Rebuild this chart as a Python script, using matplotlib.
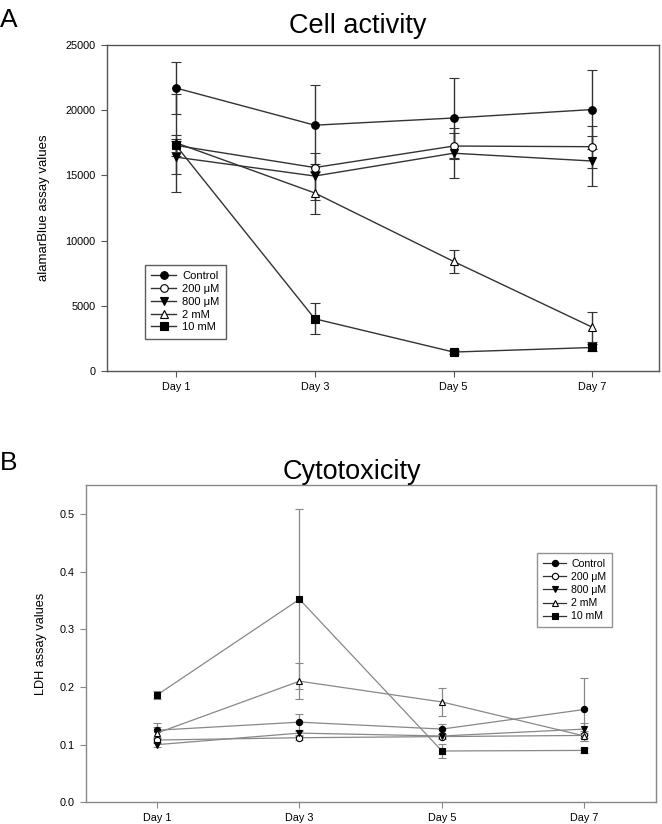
import numpy as np
import matplotlib.pyplot as plt

plt.rcParams['font.family'] = ['Liberation Sans', 'DejaVu Sans']

days = ["Day 1", "Day 3", "Day 5", "Day 7"]
groups = ["Control", "200 μM", "800 μM", "2 mM", "10 mM"]

# Panel A - alamarBlue (mean, error)
ab_control = [21700, 18850, 19400, 20050]
ab_control_err = [2000, 3100, 3050, 3050]
ab_200um = [17300, 15600, 17250, 17200]
ab_200um_err = [500, 300, 1000, 1600]
ab_800um = [16400, 14950, 16700, 16100]
ab_800um_err = [1270, 1800, 1900, 1950]
ab_2mm = [17500, 13650, 8400, 3350]
ab_2mm_err = [3750, 1600, 900, 1150]
ab_10mm = [17300, 4000, 1450, 1800]
ab_10mm_err = [800, 1200, 150, 300]

# Panel B - LDH (mean, error)
ldh_control = [0.125, 0.139, 0.127, 0.161]
ldh_control_err = [0.013, 0.015, 0.008, 0.055]
ldh_200um = [0.108, 0.112, 0.114, 0.116]
ldh_200um_err = [0.005, 0.004, 0.004, 0.005]
ldh_800um = [0.100, 0.120, 0.115, 0.127]
ldh_800um_err = [0.004, 0.005, 0.004, 0.011]
ldh_2mm = [0.120, 0.210, 0.174, 0.115]
ldh_2mm_err = [0.010, 0.031, 0.024, 0.008]
ldh_10mm = [0.186, 0.352, 0.089, 0.090]
ldh_10mm_err = [0.007, 0.156, 0.012, 0.004]

styles = [('o', 'black'), ('o', 'white'), ('v', 'black'), ('^', 'white'), ('s', 'black')]


def draw_panel(ax, means, errs, line_color, frame_color, ms, lw, cap):
    x = np.arange(1, len(days) + 1)
    handles = []
    for (marker, face), m, e, name in zip(styles, means, errs, groups):
        c = ax.errorbar(x, m, yerr=e, marker=marker, markersize=ms,
                        markerfacecolor=face, markeredgecolor='black', markeredgewidth=0.8,
                        color=line_color, linewidth=lw, ecolor=line_color, elinewidth=lw,
                        capsize=cap, capthick=lw, label=name)
        handles.append(c[0])
    ax.set_xticks(x)
    ax.set_xticklabels(days)
    for s in ax.spines.values():
        s.set_color(frame_color)
        s.set_linewidth(1.0)
    ax.tick_params(direction='out', length=4, color=frame_color, labelsize=7.8,
                   top=False, right=False, pad=4)
    return handles


fig = plt.figure(figsize=(6.62, 8.24), dpi=100)

# Panel A
ax1 = fig.add_axes([0.161, 0.5498, 0.8345, 0.3956])
h1 = draw_panel(ax1,
                [ab_control, ab_200um, ab_800um, ab_2mm, ab_10mm],
                [ab_control_err, ab_200um_err, ab_800um_err, ab_2mm_err, ab_10mm_err],
                '#333333', '#555555', 5.5, 1.0, 3.3)
ax1.set_xlim(0.5, 4.48)
ax1.set_ylim(0, 25000)
ax1.set_yticks(np.arange(0, 25001, 5000))
ax1.set_ylabel('alamarBlue assay values', fontsize=9.5)
ax1.yaxis.set_label_coords(-0.103, 0.5)
leg1 = ax1.legend(h1, groups, loc='lower left', bbox_to_anchor=(0.069, 0.098), fontsize=8,
                  frameon=True, fancybox=False, handlelength=2.25, handletextpad=0.55,
                  labelspacing=0.25, borderpad=0.6, borderaxespad=0)
leg1.get_frame().set_edgecolor('#333333')
leg1.get_frame().set_linewidth(1.0)

# Panel B
ax2 = fig.add_axes([0.1295, 0.0263, 0.861, 0.385])
h2 = draw_panel(ax2,
                [ldh_control, ldh_200um, ldh_800um, ldh_2mm, ldh_10mm],
                [ldh_control_err, ldh_200um_err, ldh_800um_err, ldh_2mm_err, ldh_10mm_err],
                '#888888', '#888888', 4.5, 0.9, 2.6)
ax2.set_xlim(0.5, 4.5)
ax2.set_ylim(0, 0.55)
ax2.set_yticks(np.arange(0, 0.51, 0.1))
ax2.set_yticklabels([f'{v:.1f}' for v in np.arange(0, 0.51, 0.1)])
ax2.set_ylabel('LDH assay values', fontsize=9.2)
ax2.yaxis.set_label_coords(-0.068, 0.5)
leg2 = ax2.legend(h2, groups, loc='lower left', bbox_to_anchor=(0.792, 0.552), fontsize=7.6,
                  frameon=True, fancybox=False, handlelength=2.2, handletextpad=0.5,
                  labelspacing=0.3, borderpad=0.55, borderaxespad=0)
leg2.get_frame().set_edgecolor('#777777')
leg2.get_frame().set_linewidth(1.0)
for ln in leg2.get_lines():
    ln.set_color('#333333')

fig.text(0.54, 0.96, 'Cell activity', fontsize=19.5, ha='center', va='baseline')
fig.text(0.532, 0.4187, 'Cytotoxicity', fontsize=19.5, ha='center', va='baseline')
fig.text(0.0, 0.967, 'A', fontsize=19, ha='left', va='baseline')
fig.text(0.0, 0.4296, 'B', fontsize=19, ha='left', va='baseline')

fig.savefig('out.png', dpi=100)
